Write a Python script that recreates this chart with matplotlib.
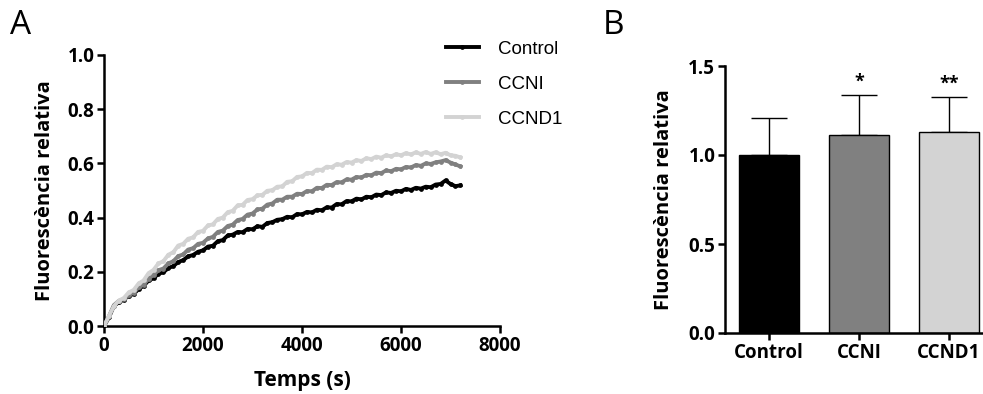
import numpy as np
import matplotlib
matplotlib.use("Agg")
import matplotlib.pyplot as plt

# Cinètica de fluorescència (mostres cada 100 s)
control = [0.000, 0.032, 0.074, 0.088, 0.097, 0.112, 0.118, 0.137, 0.148, 0.168,
           0.176, 0.193, 0.198, 0.214, 0.221, 0.236, 0.243, 0.257, 0.262, 0.274,
           0.279, 0.293, 0.296, 0.313, 0.317, 0.334, 0.337, 0.347, 0.346, 0.358,
           0.357, 0.368, 0.366, 0.380, 0.383, 0.392, 0.394, 0.403, 0.401, 0.413,
           0.412, 0.421, 0.419, 0.429, 0.427, 0.438, 0.437, 0.450, 0.449, 0.461,
           0.460, 0.470, 0.467, 0.477, 0.475, 0.485, 0.483, 0.493, 0.491, 0.499,
           0.497, 0.506, 0.502, 0.510, 0.507, 0.514, 0.512, 0.522, 0.524, 0.537,
           0.524, 0.516, 0.519]
ccni = [0.000, 0.036, 0.077, 0.093, 0.099, 0.114, 0.123, 0.143, 0.152, 0.175,
        0.188, 0.206, 0.212, 0.231, 0.239, 0.258, 0.264, 0.282, 0.287, 0.303,
        0.307, 0.323, 0.329, 0.347, 0.352, 0.369, 0.374, 0.391, 0.395, 0.411,
        0.415, 0.430, 0.433, 0.448, 0.452, 0.466, 0.466, 0.477, 0.477, 0.488,
        0.487, 0.498, 0.497, 0.510, 0.509, 0.521, 0.520, 0.531, 0.530, 0.541,
        0.540, 0.550, 0.548, 0.558, 0.556, 0.566, 0.564, 0.574, 0.571, 0.580,
        0.578, 0.587, 0.585, 0.594, 0.591, 0.600, 0.598, 0.604, 0.607, 0.612,
        0.603, 0.596, 0.589]
ccnd1 = [0.000, 0.037, 0.073, 0.094, 0.103, 0.124, 0.133, 0.157, 0.168, 0.195,
         0.207, 0.231, 0.239, 0.263, 0.272, 0.297, 0.303, 0.322, 0.327, 0.347,
         0.351, 0.371, 0.375, 0.395, 0.400, 0.420, 0.425, 0.445, 0.447, 0.465,
         0.468, 0.482, 0.484, 0.499, 0.501, 0.514, 0.515, 0.532, 0.534, 0.550,
         0.552, 0.565, 0.564, 0.577, 0.576, 0.588, 0.586, 0.597, 0.595, 0.605,
         0.603, 0.612, 0.609, 0.619, 0.616, 0.625, 0.621, 0.630, 0.626, 0.634,
         0.630, 0.638, 0.633, 0.641, 0.635, 0.642, 0.635, 0.641, 0.634, 0.639,
         0.630, 0.628, 0.622]
temps = np.arange(len(control)) * 100

# Barres (panell B)
grups = ['Control', 'CCNI', 'CCND1']
mitjanes = [1.00, 1.115, 1.128]
errors = [0.21, 0.222, 0.198]
signif = ['', '*', '**']

colors = ['black', '#808080', '#d3d3d3']
bold = dict(family='Open Sans', weight='bold')

fig = plt.figure(figsize=(9.83, 3.94), dpi=100)

# ---- Panell A ----
axA = fig.add_axes([104/983, 1-326/394, (500-104)/983, (326-55)/394])
for y, c, nom in zip([control, ccni, ccnd1], colors, grups):
    axA.plot(temps, y, color=c, lw=2.8, marker='o', ms=2.4, label=nom, zorder=3)
axA.set_xlim(0, 8000)
axA.set_ylim(0, 1.0)
axA.set_xticks([0, 2000, 4000, 6000, 8000])
axA.set_yticks([0.0, 0.2, 0.4, 0.6, 0.8, 1.0])
axA.set_yticklabels(['0.0', '0.2', '0.4', '0.6', '0.8', '1.0'])
axA.set_xlabel('Temps (s)', fontsize=15, labelpad=10, **bold)
axA.set_ylabel('Fluorescència relativa', fontsize=14.5, labelpad=9, **bold)
leg = axA.legend(loc='upper left', bbox_to_anchor=(0.82, 1.115), frameon=False,
                 handlelength=1.8, handletextpad=1.0, labelspacing=0.95,
                 prop={'family': 'Liberation Sans', 'size': 13.5})

# ---- Panell B ----
axB = fig.add_axes([725/983, 1-333/394, (983-725)/983, (333-66)/394])
x = np.arange(len(grups))
axB.bar(x, mitjanes, width=0.67, color=colors, edgecolor='black', linewidth=1.0, zorder=2)
axB.errorbar(x, mitjanes, yerr=[np.zeros(3), errors], fmt='none', ecolor='black',
             elinewidth=1.0, capsize=13, capthick=1.0, zorder=1)
for xi, m, e, s in zip(x, mitjanes, errors, signif):
    if s:
        axB.text(xi, m + e + 0.025, s, ha='center', va='bottom', fontsize=13, **bold)
axB.set_xlim(-0.49, 2.38)
axB.set_ylim(0, 1.5)
axB.set_xticks(x)
axB.set_xticklabels(grups)
axB.set_yticks([0.0, 0.5, 1.0, 1.5])
axB.set_ylabel('Fluorescència relativa', fontsize=14.5, labelpad=10, **bold)

for ax in (axA, axB):
    for s in ('top', 'right'):
        ax.spines[s].set_visible(False)
    for s in ('left', 'bottom'):
        ax.spines[s].set_linewidth(1.8)
    ax.tick_params(width=1.8, length=5, pad=2)
    for lab in ax.get_xticklabels() + ax.get_yticklabels():
        lab.set_fontfamily('Open Sans')
        lab.set_fontweight('bold')
        lab.set_fontsize(13.5)

fig.text(21/983, 1-25/394, 'A', fontsize=24, family='Open Sans', ha='center', va='center')
fig.text(613/983, 1-25/394, 'B', fontsize=24, family='Open Sans', ha='center', va='center')

fig.savefig('out.png', dpi=100)
